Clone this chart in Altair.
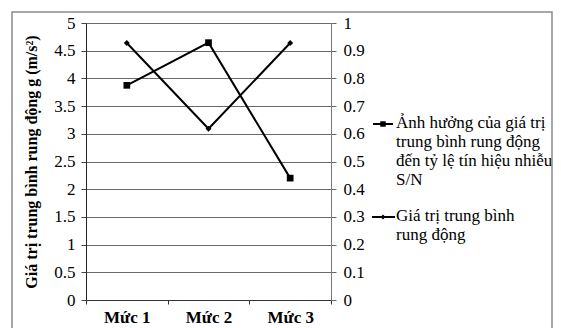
import altair as alt
import pandas as pd

FONT = "'Liberation Serif', 'Times New Roman', 'DejaVu Serif', serif"

levels = ["Mức 1", "Mức 2", "Mức 3"]
vib_mean = [4.64, 3.09, 4.64]          # left axis (m/s²)
sn_effect = [0.775, 0.929, 0.44]       # right axis

left_ticks = [0, 0.5, 1, 1.5, 2, 2.5, 3, 3.5, 4, 4.5, 5]
right_ticks = [0, 0.1, 0.2, 0.3, 0.4, 0.5, 0.6, 0.7, 0.8, 0.9, 1]

y_title = "Giá trị trung bình rung động g (m/s²)"
legend_sn = ["Ảnh hưởng của giá trị", "trung bình rung động",
             "đến tỷ lệ tín hiệu nhiễu", "S/N"]
legend_vib = ["Giá trị trung bình", "rung động"]

df = pd.DataFrame({"level": levels, "vib": vib_mean, "sn": sn_effect})
one = pd.DataFrame({"k": [0]})

x_enc = alt.X(
    "level:N", sort=levels,
    scale=alt.Scale(type="band", paddingInner=0, paddingOuter=0),
    axis=alt.Axis(title=None, labelAngle=0, labelFont=FONT, labelFontSize=17,
                  labelFontWeight="bold", labelColor="black", tickBand="extent",
                  tickSize=4, tickColor="#333", domainColor="#333",
                  labelPadding=5, grid=False),
)

vib = alt.Chart(df).mark_line(
    color="black", strokeWidth=2,
    point=alt.OverlayMarkDef(shape="diamond", filled=True, size=36, color="black", opacity=1),
).encode(
    x=x_enc,
    y=alt.Y("vib:Q", scale=alt.Scale(domain=[0, 5], nice=False, zero=True),
            axis=alt.Axis(values=left_ticks, format=".1~f", orient="left",
                          title=y_title, titleFont=FONT, titleFontSize=16,
                          titleFontWeight="bold", titleColor="black", titlePadding=14,
                          labelFont=FONT, labelFontSize=17, labelColor="black",
                          labelPadding=6, tickSize=5, tickColor="#444",
                          domainColor="#222", grid=True, gridColor="#6a6a6a",
                          gridWidth=1)),
)

sn = alt.Chart(df).mark_line(
    color="black", strokeWidth=2,
    point=alt.OverlayMarkDef(shape="square", filled=True, size=45, color="black", opacity=1),
).encode(
    x=x_enc,
    y=alt.Y("sn:Q", scale=alt.Scale(domain=[0, 1], nice=False, zero=True),
            axis=alt.Axis(values=right_ticks, format=".1~f", orient="right",
                          title=None, labelFont=FONT, labelFontSize=17,
                          labelColor="black", labelPadding=7, tickSize=5,
                          tickColor="#666", domainColor="#777", grid=False)),
)

leg_base = alt.Chart(one)
leg_rule1 = leg_base.mark_rule(color="black", strokeWidth=2).encode(
    x=alt.value(287), x2=alt.value(307), y=alt.value(101))
leg_pt1 = leg_base.mark_point(shape="square", filled=True, size=30, color="black", opacity=1).encode(
    x=alt.value(297), y=alt.value(101))
leg_txt1 = leg_base.mark_text(align="left", baseline="top", font=FONT, fontSize=17,
                              lineHeight=19, color="black").encode(
    x=alt.value(310), y=alt.value(92), text=alt.value(legend_sn))

leg_rule2 = leg_base.mark_rule(color="black", strokeWidth=2).encode(
    x=alt.value(286), x2=alt.value(309), y=alt.value(194))
leg_pt2 = leg_base.mark_point(shape="diamond", filled=True, size=25, color="black", opacity=1).encode(
    x=alt.value(297), y=alt.value(194))
leg_txt2 = leg_base.mark_text(align="left", baseline="top", font=FONT, fontSize=17,
                              lineHeight=19, color="black").encode(
    x=alt.value(310), y=alt.value(185), text=alt.value(legend_vib))

border = leg_base.mark_rect(filled=False, stroke="#8a8a8a", strokeWidth=1.5).encode(
    x=alt.value(-74), x2=alt.value(466), y=alt.value(-11), y2=alt.value(330))

chart = alt.layer(
    vib, sn, leg_rule1, leg_pt1, leg_txt1, leg_rule2, leg_pt2, leg_txt2, border
).resolve_scale(y="independent").properties(
    width=245, height=277,
    padding={"left": 78, "top": 15, "right": 222, "bottom": 28},
    autosize=alt.AutoSizeParams(type="none"),
    background="white",
).configure_view(stroke=None)

chart.save("out.html", embed_options={"renderer": "svg", "actions": False})
